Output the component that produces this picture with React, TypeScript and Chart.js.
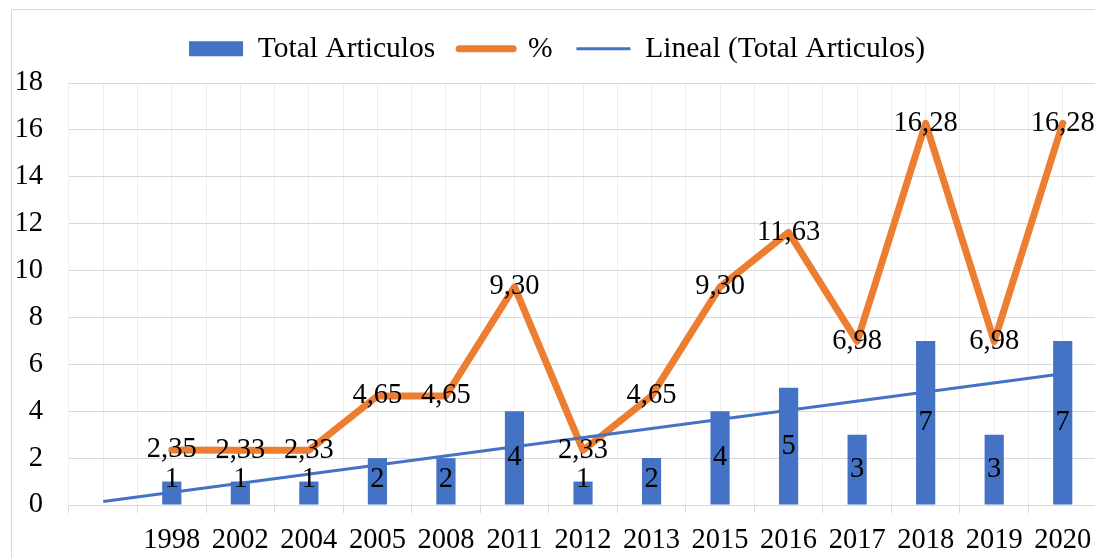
import React, { useEffect, useRef } from "react";
import { Chart, registerables } from "chart.js";

Chart.register(...registerables);

const categories = ["", "1998", "2002", "2004", "2005", "2008", "2011", "2012", "2013", "2015", "2016", "2017", "2018", "2019", "2020"];
const totalArticulos = [null, 1, 1, 1, 2, 2, 4, 1, 2, 4, 5, 3, 7, 3, 7];
const percent = [null, 2.35, 2.33, 2.33, 4.65, 4.65, 9.3, 2.33, 4.65, 9.3, 11.63, 6.98, 16.28, 6.98, 16.28];
const trendLine = [0.15, null, null, null, null, null, null, null, null, null, null, null, null, null, 5.6];
const yMin = 0;
const yMax = 18;
const yStep = 2;

const FONT_FAMILY = '"Liberation Serif", "Times New Roman", serif';
const FONT_SIZE = 28.5;
const LEGEND_FONT_SIZE = 29.5;
const BLUE = "#4472C4";
const ORANGE = "#ED7D31";

const dataLabelPlugin = {
  id: "dataLabels",
  afterDatasetsDraw(chart: any) {
    const ctx = chart.ctx;
    ctx.save();
    ctx.font = `${FONT_SIZE}px ${FONT_FAMILY}`;
    ctx.fillStyle = "#000";
    ctx.textAlign = "center";
    ctx.textBaseline = "middle";
    chart.data.datasets.forEach((ds: any, di: number) => {
      if (!ds.showLabels) return;
      const meta = chart.getDatasetMeta(di);
      meta.data.forEach((el: any, i: number) => {
        const v = ds.data[i];
        if (v === null || v === undefined) return;
        if (ds.type === "bar") {
          const base = el.base;
          const center = (el.y + base) / 2;
          const ty = Math.min(center, base - 25);
          ctx.fillText(String(v), el.x, ty);
        } else {
          ctx.fillText(v.toFixed(2).replace(".", ","), el.x, el.y);
        }
      });
    });
    ctx.restore();
  },
};

export default function App() {
  const ref = useRef<HTMLCanvasElement>(null);

  useEffect(() => {
    if (!ref.current) return;
    const chart = new Chart(ref.current, {
      type: "bar",
      data: {
        labels: categories,
        datasets: [
          {
            type: "bar",
            label: "Total Articulos",
            data: totalArticulos,
            backgroundColor: BLUE,
            barPercentage: 0.28,
            categoryPercentage: 1,
            order: 3,
            showLabels: true,
            legendStyle: { pointStyle: "rect", fillStyle: BLUE, strokeStyle: BLUE, lineWidth: 0, lineCap: "butt" },
          } as any,
          {
            type: "line",
            label: "%",
            data: percent,
            borderColor: ORANGE,
            backgroundColor: ORANGE,
            borderWidth: 7,
            borderJoinStyle: "round",
            borderCapStyle: "round",
            pointRadius: 0,
            tension: 0,
            order: 2,
            showLabels: true,
            legendStyle: { pointStyle: "line", fillStyle: ORANGE, strokeStyle: ORANGE, lineWidth: 7, lineCap: "round" },
          } as any,
          {
            type: "line",
            label: "Lineal (Total Articulos)",
            data: trendLine,
            borderColor: BLUE,
            backgroundColor: BLUE,
            borderWidth: 3,
            pointRadius: 0,
            spanGaps: true,
            tension: 0,
            order: 1,
            showLabels: false,
            legendStyle: { pointStyle: "line", fillStyle: BLUE, strokeStyle: BLUE, lineWidth: 3, lineCap: "butt" },
          } as any,
        ],
      },
      options: {
        responsive: false,
        animation: false,
        devicePixelRatio: 1,
        layout: { padding: { left: 5, right: 15, top: 2, bottom: 0 } },
        plugins: {
          tooltip: { enabled: false },
          legend: {
            position: "top",
            labels: {
              usePointStyle: true,
              pointStyleWidth: 54,
              boxHeight: 15,
              padding: 24,
              color: "#000",
              font: { family: FONT_FAMILY, size: LEGEND_FONT_SIZE },
              generateLabels: (c: any) =>
                c.data.datasets.map((ds: any, i: number) => ({
                  text: ds.label,
                  datasetIndex: i,
                  hidden: false,
                  fontColor: "#000",
                  ...ds.legendStyle,
                })),
            },
          },
        },
        scales: {
          x: {
            type: "category",
            position: "bottom",
            offset: true,
            grid: { offset: true, color: "#eeeeee", tickColor: "#d9d9d9", tickLength: 8, drawTicks: true },
            border: { display: true, color: "#d9d9d9" },
            ticks: {
              color: "#000",
              font: { family: FONT_FAMILY, size: FONT_SIZE },
              padding: 10,
              maxRotation: 0,
              autoSkip: false,
            },
            afterFit: (s: any) => {
              s.height = 53;
            },
          },
          x2: {
            type: "category",
            axis: "x",
            position: "top",
            offset: true,
            grid: { offset: false, color: "#eeeeee", drawTicks: false },
            border: { display: false },
            ticks: { display: false },
            afterFit: (s: any) => {
              s.height = 9.5;
            },
          },
          y: {
            min: yMin,
            max: yMax,
            ticks: {
              stepSize: yStep,
              color: "#000",
              font: { family: FONT_FAMILY, size: FONT_SIZE },
              padding: 26,
            },
            grid: { color: "#d9d9d9", drawTicks: false },
            border: { display: false },
            afterFit: (s: any) => {
              s.width = 52;
            },
          },
        },
      } as any,
      plugins: [dataLabelPlugin],
    });
    return () => chart.destroy();
  }, []);

  return (
    <div style={{ position: "fixed", left: 0, top: 0, width: 1095, height: 558, overflow: "hidden", background: "#fff" }}>
      <div
        style={{
          position: "absolute",
          left: 11,
          top: 9,
          width: 1120,
          height: 580,
          border: "1px solid #d9d9d9",
          boxSizing: "border-box",
        }}
      />
      <div style={{ position: "absolute", left: 12, top: 8, width: 1100, height: 550 }}>
        <canvas ref={ref} width={1100} height={550} style={{ width: 1100, height: 550, display: "block" }} />
      </div>
    </div>
  );
}
